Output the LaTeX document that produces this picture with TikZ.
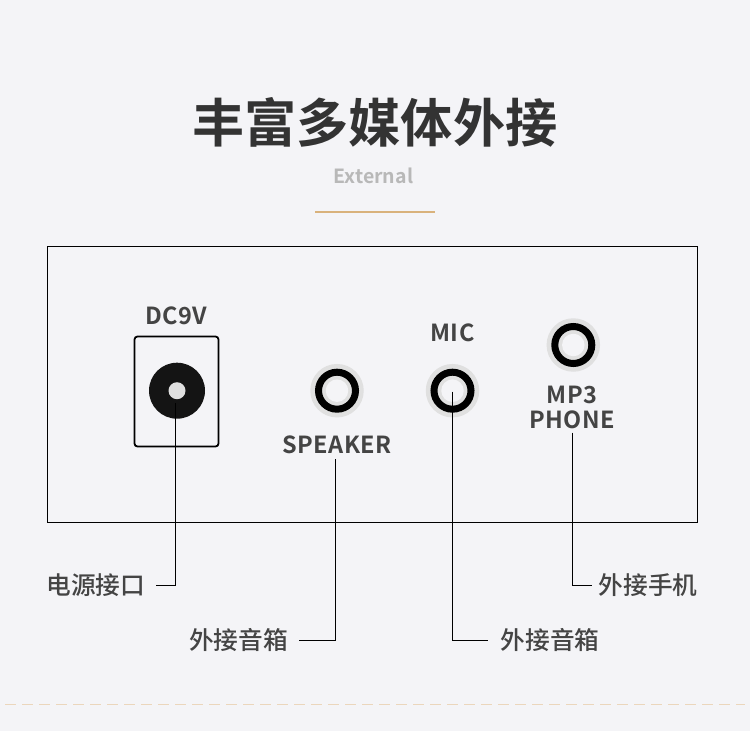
\documentclass[tikz,border=0pt]{standalone}
\usepackage{fontspec}
\setmainfont{Noto Sans CJK SC Medium}[BoldFont=Noto Sans CJK SC Bold]
\newfontfamily\spaced[LetterSpace=2,BoldFont=Noto Sans CJK SC Bold]{Noto Sans CJK SC Medium}
\definecolor{pagebg}{HTML}{F4F4F7}
\definecolor{halogray}{HTML}{E0E0E0}
\definecolor{inkdark}{HTML}{333333}
\definecolor{inklabel}{HTML}{444444}
\definecolor{subgray}{HTML}{B8B8B8}
\definecolor{goldline}{HTML}{D9B27C}
\definecolor{dashgold}{HTML}{EBD6BC}
\tikzset{
  headline/.style={inner sep=0pt,text=inkdark,font=\fontsize{52.2}{52}\selectfont\bfseries},
  subline/.style={inner sep=0pt,text=subgray,font=\fontsize{19.5}{20}\selectfont\bfseries},
  portname/.style={inner sep=0pt,text=inklabel,align=center,font=\fontsize{23.5}{25}\selectfont\spaced\bfseries},
  callout/.style={inner ysep=0pt,text=inklabel,font=\fontsize{24.7}{25}\selectfont},
  leader/.style={draw=black,line width=1.2pt},
  halo/.style={circle,fill=halogray,minimum size=53.5pt,inner sep=0pt,outer sep=0pt},
  ring/.style={circle,draw=black,line width=7pt,fill=halogray,minimum size=37pt,inner sep=0pt,outer sep=0pt},
  hole/.style={circle,fill=pagebg,minimum size=22.5pt,inner sep=0pt,outer sep=0pt}
}
\begin{document}
\begin{tikzpicture}[x=1pt,y=-1pt]
  \fill[pagebg] (0,0) rectangle (750,731);
  \useasboundingbox (0,0) rectangle (750,731);
  \node[headline] (title) at (374.8,122) {丰富多媒体外接};
  \node[subline] (subtitle) at (373.5,176) {External};
  \draw[goldline,line width=2pt] (315,211.7) -- (435,211.7);
  \draw[dashgold,line width=1.2pt,dash pattern=on 11pt off 6pt] (5,704.7) -- (745,704.7);
  \node[draw=black,line width=1.2pt,minimum width=650pt,minimum height=276pt,inner sep=0pt] (panel) at (372.5,384.5) {};
  % power socket
  \node[draw=black,line width=1.8pt,rounded corners=3pt,minimum width=84pt,minimum height=110pt,inner sep=0pt] (dcbox) at (176.5,391.5) {};
  \node[circle,fill=black!92,minimum size=56pt,inner sep=0pt] (dcplug) at (177,390.7) {};
  \node[circle,fill=halogray,minimum size=17pt,inner sep=0pt] (dcpin) at (177,390.7) {};
  % audio jacks
  \foreach \jack/\jx/\jy in {speaker/337/390.7,mic/452.5/390.7,mp/573.3/345} {
    \node[halo] (\jack halo) at (\jx,\jy) {};
    \node[ring] (\jack ring) at (\jx,\jy) {};
    \node[hole] (\jack) at (\jx,\jy) {};
  }
  \node[portname] (dcname) at (176.5,315.5) {DC9V};
  \node[portname] (spkname) at (337,445) {SPEAKER};
  \node[portname] (micname) at (452.5,333) {MIC};
  \node[portname] (mpname) at (572,407) {MP3\\PHONE};
  % callouts
  \node[callout,inner xsep=10pt] (dclabel) at (96,585.5) {电源接口};
  \node[callout,inner xsep=11pt] (spklabel) at (238.5,640.5) {外接音箱};
  \node[callout,inner xsep=12pt] (miclabel) at (550,640.5) {外接音箱};
  \node[callout,inner xsep=6pt] (mplabel) at (648,585.5) {外接手机};
  \coordinate (dctip) at (175.5,403);
  \coordinate (spktip) at (335.5,459);
  \coordinate (mictip) at (452.5,391.7);
  \coordinate (mptip) at (572.5,432.7);
  \draw[leader] (dctip) |- (dclabel.east);
  \draw[leader] (spktip) |- (spklabel.east);
  \draw[leader] (mictip) |- (miclabel.west);
  \draw[leader] (mptip) |- (mplabel.west);
\end{tikzpicture}
\end{document}
